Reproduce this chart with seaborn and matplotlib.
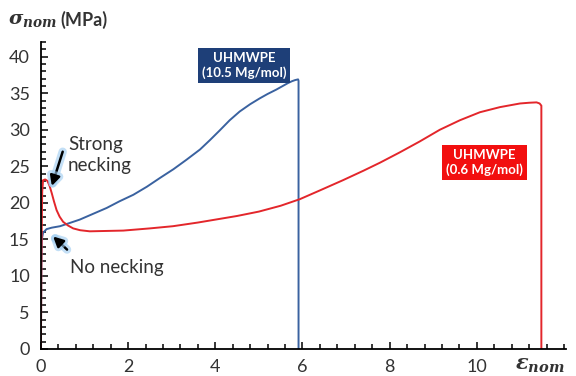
import matplotlib
matplotlib.use("Agg")
import matplotlib.pyplot as plt
import matplotlib.patheffects as pe
from matplotlib.ticker import MultipleLocator, FixedLocator
import pandas as pd
import seaborn as sns

# Nominal stress-strain curves (strain, MPa)
strain_high = [0.0, 0.004, 0.008, 0.014, 0.02, 0.05, 0.13, 0.25, 0.44, 0.89, 1.2,
               1.51, 1.8, 2.12, 2.43, 2.73, 3.04, 3.34, 3.65, 3.88, 4.1, 4.33,
               4.56, 4.8, 5.02, 5.2, 5.4, 5.55, 5.67, 5.76, 5.83, 5.9, 5.91, 5.91]
stress_high = [0.0, 4.0, 9.0, 13.0, 15.0, 15.9, 16.4, 16.6, 16.8, 17.7, 18.5,
               19.3, 20.2, 21.1, 22.2, 23.4, 24.6, 25.9, 27.3, 28.6, 29.9, 31.3,
               32.5, 33.5, 34.3, 34.9, 35.5, 36.0, 36.4, 36.65, 36.8, 36.9, 36.7, 0.0]

strain_low = [0.0, 0.005, 0.01, 0.02, 0.03, 0.05, 0.1, 0.15, 0.2, 0.25, 0.3, 0.36,
              0.43, 0.51, 0.62, 0.74, 0.9, 1.12, 1.5, 1.89, 2.5, 3.03, 3.6, 4.1,
              4.5, 5.0, 5.5, 5.94, 6.4, 6.93, 7.4, 7.78, 8.23, 8.69, 9.15, 9.61,
              10.07, 10.53, 10.99, 11.2, 11.37, 11.44, 11.48, 11.48]
stress_low = [0.0, 5.0, 11.0, 17.0, 21.5, 23.1, 23.2, 23.0, 22.3, 21.3, 20.2, 19.0,
              18.1, 17.4, 16.9, 16.5, 16.25, 16.1, 16.15, 16.2, 16.5, 16.8, 17.3,
              17.8, 18.2, 18.8, 19.6, 20.5, 21.7, 23.1, 24.4, 25.5, 26.9, 28.4,
              30.0, 31.3, 32.4, 33.1, 33.6, 33.7, 33.75, 33.6, 33.3, 0.0]

series_names = ["UHMWPE\n(10.5 Mg/mol)", "UHMWPE\n(0.6 Mg/mol)"]
line_colors = ["#3A62A0", "#E3262B"]
box_colors = ["#1E3F78", "#F20F0F"]
x_ticks = [0, 2, 4, 6, 8, 10]

df = pd.concat([
    pd.DataFrame({"strain": strain_high, "stress": stress_high, "grade": series_names[0]}),
    pd.DataFrame({"strain": strain_low, "stress": stress_low, "grade": series_names[1]}),
], ignore_index=True)

sns.set_style("ticks")
plt.rcParams["font.family"] = ["Lato", "DejaVu Sans"]
plt.rcParams["mathtext.fontset"] = "dejavuserif"

fig = plt.figure(figsize=(5.76, 3.76), dpi=100)
ax = fig.add_axes([0.071, 0.072, 0.912, 0.816])

sns.lineplot(data=df, x="strain", y="stress", hue="grade", palette=line_colors,
             sort=False, estimator=None, linewidth=1.4, legend=False, ax=ax)

ax.set_xlim(0, 12.05)
ax.set_ylim(0, 42)
ax.xaxis.set_major_locator(FixedLocator(x_ticks))
ax.xaxis.set_minor_locator(MultipleLocator(0.4))
ax.yaxis.set_major_locator(MultipleLocator(5))
ax.yaxis.set_minor_locator(MultipleLocator(1))
ax.tick_params(which="both", direction="in", colors="black", labelsize=13,
               width=1.1, labelcolor="#333333")
ax.tick_params(axis="x", which="major", pad=7)
ax.tick_params(axis="y", which="major", pad=8)
ax.tick_params(which="major", length=5)
ax.tick_params(which="minor", length=3.5)
ax.set_xlabel("")
ax.set_ylabel("")
sns.despine(ax=ax)
for s in ("left", "bottom"):
    ax.spines[s].set_linewidth(1.3)
    ax.spines[s].set_color("black")

# Curve labels
ax.text(4.66, 38.8, series_names[0], ha="center", va="center", color="white",
        fontsize=9.5, fontweight="bold", linespacing=1.2,
        bbox=dict(boxstyle="square,pad=0.3", fc=box_colors[0], ec="none"))
ax.text(10.18, 25.5, series_names[1], ha="center", va="center", color="white",
        fontsize=9.5, fontweight="bold", linespacing=1.2,
        bbox=dict(boxstyle="square,pad=0.3", fc=box_colors[1], ec="none"))

# Necking annotations with glowing arrows
glow = [pe.Stroke(linewidth=6, foreground="#9CCBF0", alpha=0.6), pe.Normal()]
arrow_kw = dict(arrowstyle="-|>,head_length=0.6,head_width=0.3", color="black",
                lw=1.8, shrinkA=0, shrinkB=0)
a1 = ax.annotate("", xy=(0.25, 22.3), xytext=(0.5, 27.0), arrowprops=arrow_kw)
a1.arrow_patch.set_path_effects(glow)
a2 = ax.annotate("", xy=(0.28, 15.4), xytext=(0.6, 13.6), arrowprops=arrow_kw)
a2.arrow_patch.set_path_effects(glow)
ax.text(0.62, 26.5, "Strong\nnecking", ha="left", va="center", fontsize=13.5,
        color="#333333", linespacing=1.3)
ax.text(0.67, 11.1, "No necking", ha="left", va="center", fontsize=13.5,
        color="#333333")

# Axis titles
fig.text(0.014, 0.945, r"$\mathbfit{\sigma}_{\mathbfit{nom}}$", fontsize=14,
         ha="left", va="center", color="#333333")
fig.text(0.104, 0.947, "(MPa)", fontsize=13, fontweight="bold", ha="left",
         va="center", color="#333333")
fig.text(0.938, 0.028, r"$\mathbfit{\varepsilon}_{\mathbfit{nom}}$", fontsize=15,
         ha="center", va="center", color="#333333")

fig.savefig("out.png", dpi=100)
